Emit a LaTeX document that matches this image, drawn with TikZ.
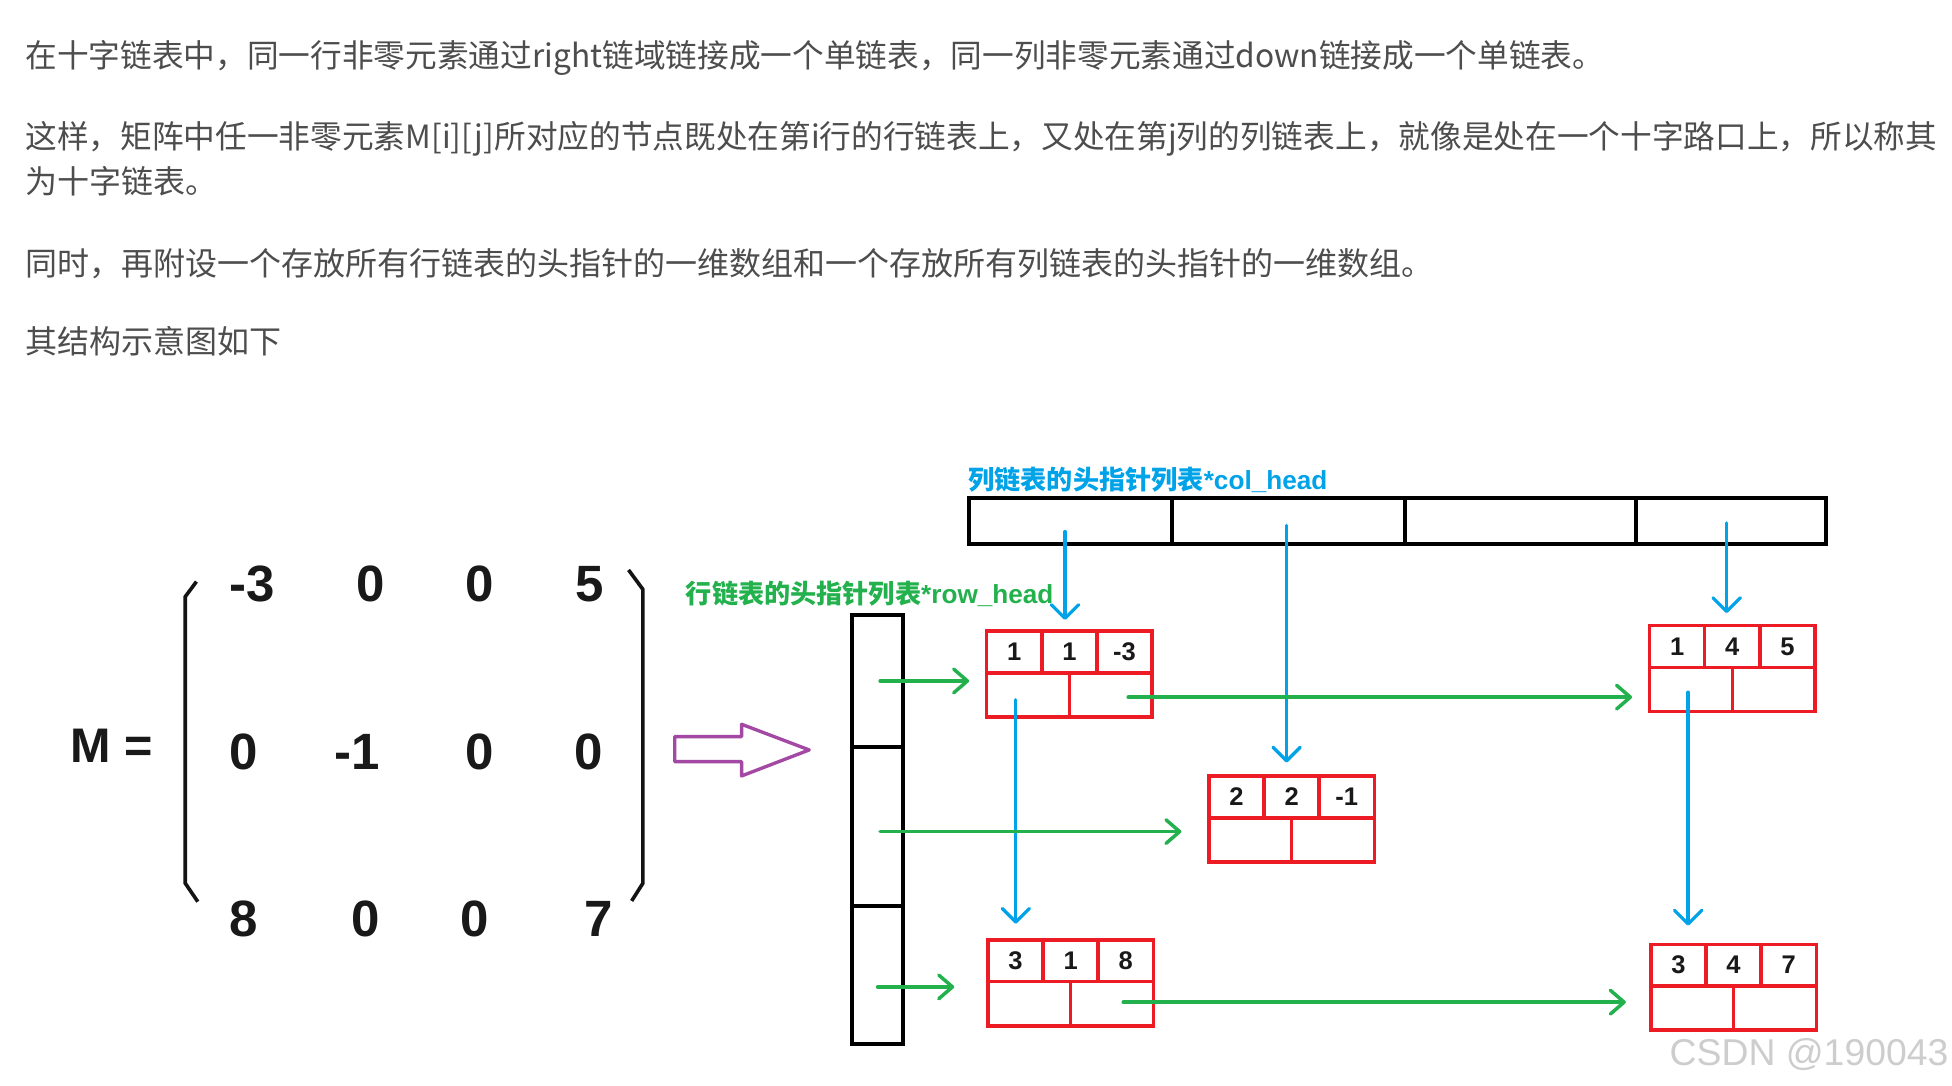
\documentclass[tikz,border=0pt]{standalone}
\usepackage{fontspec}
\setmainfont{Liberation Sans}
\newfontfamily\cjk{Noto Sans CJK SC}
\usetikzlibrary{arrows.meta,calc}
\definecolor{pred}{HTML}{ED1C24}
\definecolor{pgreen}{HTML}{22B14C}
\definecolor{pblue}{HTML}{00A2E8}
\definecolor{ppurple}{HTML}{A349A4}
\definecolor{txtgray}{HTML}{4D4D4D}
\definecolor{wmgray}{HTML}{CDCDCD}
\newcommand\lnode[6]{%
  \node[lbox, anchor=north west] (#1) at (#2,#3) {};
  \node[tcell, anchor=north west] (#1-1) at (#1.north west) {#4};
  \node[tcell, anchor=north] (#1-2) at (#1.north) {#5};
  \node[tcell, anchor=north east] (#1-3) at (#1.north east) {#6};
  \node[bcell, anchor=south west] (#1-l) at (#1.south west) {};
  \node[bcell, anchor=south east] (#1-r) at (#1.south east) {};
}
\begin{document}
\begin{tikzpicture}[x=1pt,y=-1pt,
  body/.style={anchor=base west, inner sep=0pt, outer sep=0pt, font=\cjk\fontsize{25.7}{30}\selectfont, text=txtgray},
  mat/.style={inner sep=0pt, outer sep=0pt, font=\bfseries\fontsize{41}{45}\selectfont, text=black!90},
  brk/.style={draw=black!92, line width=2.9pt},
  arrcell/.style={draw=black, line width=3.2pt, inner sep=0pt, outer sep=0pt, anchor=north west},
  lbl/.style={inner sep=0pt, outer sep=0pt, anchor=west, font=\bfseries\fontsize{21}{24}\selectfont},
  lbox/.style={draw=pred, line width=2.8pt, inner sep=0pt, outer sep=0pt, minimum width=133pt, minimum height=69pt},
  tcell/.style={draw=pred, line width=2.8pt, inner sep=0pt, outer sep=0pt, minimum width=44.33pt, minimum height=33.5pt, font=\bfseries\fontsize{20.5}{22}\selectfont, text=black!90},
  bcell/.style={draw=pred, line width=2.8pt, inner sep=0pt, outer sep=0pt, minimum width=66.5pt, minimum height=35.5pt},
  barrow/.style={draw=pblue, line width=2.6pt, line cap=round, -{Straight Barb[length=11pt,width=22pt,round]}},
  garrow/.style={draw=pgreen, line width=2.8pt, line cap=round, -{Straight Barb[length=11pt,width=19pt,round]}}
]
\useasboundingbox[fill=white] (0,0) rectangle (1568,872);

% body text
\node[body] (t1) at (20.5,54) {\scalebox{0.99}[1]{在十字链表中，同一行非零元素通过right链域链接成一个单链表，同一列非零元素通过down链接成一个单链表。}};
\node[body] (t2) at (20.5,119.5) {\scalebox{0.99}[1]{这样，矩阵中任一非零元素M[i][j]所对应的节点既处在第i行的行链表上，又处在第j列的列链表上，就像是处在一个十字路口上，所以称其}};
\node[body] (t3) at (20.5,155.5) {为十字链表。};
\node[body] (t4) at (20.5,221) {同时，再附设一个存放所有行链表的头指针的一维数组和一个存放所有列链表的头指针的一维数组。};
\node[body] (t5) at (20.5,284) {其结构示意图如下};

% matrix
\node[inner sep=0pt, font=\bfseries\fontsize{39}{43}\selectfont, text=black!90] (M) at (89.5,599) {M =};
\node[mat] (m11) at (202.6,469) {-3};
\node[mat] (m12) at (297.6,469) {0};
\node[mat] (m13) at (385.5,469) {0};
\node[mat] (m14) at (473.3,469) {5};
\node[mat] (m21) at (195.4,604) {0};
\node[mat] (m22) at (287.2,604) {-1};
\node[mat] (m23) at (385.5,604) {0};
\node[mat] (m24) at (473,604) {0};
\node[mat] (m31) at (195.4,738) {8};
\node[mat] (m32) at (294,738) {0};
\node[mat] (m33) at (381.6,738) {0};
\node[mat] (m34) at (480.6,738) {7};
\draw[brk] (157.8,467.2) -- (148.8,479.3) -- (148.8,709.5) -- (158.9,724.3);
\draw[brk] (504.9,457.8) -- (516.4,473.4) -- (516.4,709.5) -- (507.4,723.7);

% purple block arrow
\draw[ppurple, line width=2.7pt, line join=round] (542,591.7) -- (595.7,591.7) -- (595.7,581.8) -- (650,602.4) -- (595.7,623.3) -- (595.7,611.8) -- (542,611.8) -- cycle;

% row head array
\node[arrcell, minimum width=41.5pt, minimum height=106pt] (row1) at (684.2,494) {};
\node[arrcell, minimum width=41.5pt, minimum height=128pt] (row2) at (684.2,600) {};
\node[arrcell, minimum width=41.5pt, minimum height=110.5pt] (row3) at (684.2,728) {};

% col head array
\node[arrcell, minimum width=163.6pt, minimum height=37pt] (col1) at (778,400) {};
\node[arrcell, minimum width=186.9pt, minimum height=37pt] (col2) at (941.6,400) {};
\node[arrcell, minimum width=185.5pt, minimum height=37pt] (col3) at (1128.5,400) {};
\node[arrcell, minimum width=152.5pt, minimum height=37pt] (col4) at (1314,400) {};

% labels
\node[lbl, text=pblue] (clbl) at (778,385.5) {{\cjk 列链表的头指针列表}*col\_head};
\node[lbl, text=pgreen] (rlbl) at (551,477) {{\cjk 行链表的头指针列表}*row\_head};

% list nodes
\lnode{A}{792.5}{507}{1}{1}{-3}
\lnode{B}{971}{623.5}{2}{2}{-1}
\lnode{C}{1325}{502.5}{1}{4}{5}
\lnode{D}{793.5}{755}{3}{1}{8}
\lnode{E}{1326}{758.5}{3}{4}{7}

% blue (down) arrows
\coordinate (b1) at ($(A.north)+(-3.5,-9)$);
\draw[barrow] ($(b1 |- col1.center)+(0,8.5)$) -- (b1);
\coordinate (b2) at ($(B.north)+(-4,-11)$);
\draw[barrow] ($(b2 |- col2.center)+(0,3.5)$) -- (b2);
\coordinate (b3) at ($(C.north)+(-4.5,-10)$);
\draw[barrow] ($(b3 |- col4.center)+(0,1.5)$) -- (b3);
\coordinate (b4) at ($(D.north west)+(22.5,-13)$);
\draw[barrow] ($(b4 |- A-l.center)+(0,3.75)$) -- (b4);
\coordinate (b5) at ($(E.north west)+(30,-15)$);
\draw[barrow] ($(b5 |- C-l.center)+(0,2.25)$) -- (b5);

% green (right) arrows
\coordinate (g1) at ($(row1.center)+(2,0)$);
\draw[garrow, shorten >=14pt] (g1) -- (g1 -| A.west);
\coordinate (g2) at ($(A-r.center)+(14,1.75)$);
\draw[garrow, shorten >=14pt] (g2) -- (g2 -| C.west);
\coordinate (g3) at ($(row2.center)+(2,4)$);
\draw[garrow, shorten >=22pt] (g3) -- (g3 -| B.west);
\coordinate (g4) at ($(row3.center)+(0,9.5)$);
\draw[garrow, shorten >=27pt] (g4) -- (g4 -| D.west);
\coordinate (g5) at ($(D-r.center)+(9,-1.25)$);
\draw[garrow, shorten >=20pt] (g5) -- (g5 -| E.west);

% watermark
\node[anchor=base west, inner sep=0pt, font=\fontsize{30}{33}\selectfont, text=wmgray] (wm) at (1341,855.5) {CSDN @190043};
\end{tikzpicture}
\end{document}
